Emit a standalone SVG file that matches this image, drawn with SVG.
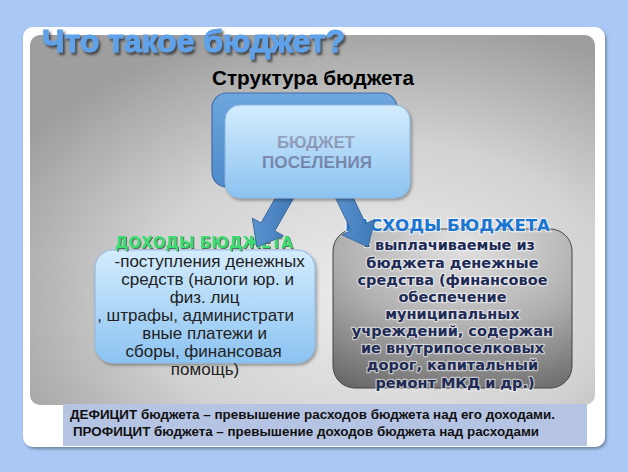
<svg xmlns="http://www.w3.org/2000/svg" width="628" height="472" viewBox="0 0 628 472">
<defs>
<radialGradient id="panelG" cx="0.62" cy="0.7" r="0.75">
<stop offset="0" stop-color="#eeeeee"/>
<stop offset="0.55" stop-color="#d2d2d2"/>
<stop offset="1" stop-color="#9e9e9e"/>
</radialGradient>
<linearGradient id="lightBlue" x1="0" y1="0" x2="0" y2="1">
<stop offset="0" stop-color="#d3ecfd"/>
<stop offset="1" stop-color="#8cc3f1"/>
</linearGradient>
<linearGradient id="darkBlue" x1="0" y1="0" x2="0" y2="1">
<stop offset="0" stop-color="#6ea6de"/>
<stop offset="1" stop-color="#4f8cc9"/>
</linearGradient>
<radialGradient id="grayBox" cx="0.55" cy="0.1" r="1.05">
<stop offset="0" stop-color="#e2e2e2"/>
<stop offset="0.5" stop-color="#b0b0b0"/>
<stop offset="1" stop-color="#626262"/>
</radialGradient>
<linearGradient id="arrowG" x1="0" y1="0" x2="1" y2="0">
<stop offset="0" stop-color="#5b93cf"/>
<stop offset="1" stop-color="#3f78b6"/>
</linearGradient>
<linearGradient id="budgetText" x1="0" y1="0" x2="0" y2="1">
<stop offset="0" stop-color="#9aa6c2"/>
<stop offset="1" stop-color="#6c7da3"/>
</linearGradient>
<filter id="shadow" x="-10%" y="-10%" width="125%" height="130%">
<feDropShadow dx="1.5" dy="2" stdDeviation="1.5" flood-color="#000" flood-opacity="0.35"/>
</filter>
<filter id="titleShadow" x="-5%" y="-20%" width="115%" height="150%">
<feDropShadow dx="2" dy="2.5" stdDeviation="1" flood-color="#333" flood-opacity="0.8"/>
</filter>
<filter id="greenShadow" x="-5%" y="-30%" width="115%" height="170%">
<feDropShadow dx="1" dy="1" stdDeviation="0.6" flood-color="#2f4f3a" flood-opacity="0.8"/>
</filter>
</defs>
<style>
.sans{font-family:"Liberation Sans",Arial,sans-serif}
.dv{font-family:"DejaVu Sans",Verdana,sans-serif;font-weight:bold}
.inc{font-size:17px;fill:#222;text-anchor:middle}
.exp{font-size:14.5px;fill:#1e2b57;text-anchor:middle;stroke:#ffffff;stroke-opacity:0.55;stroke-width:2.5;paint-order:stroke;stroke-linejoin:round}
.bot{font-size:13.5px;font-weight:bold;fill:#111}
.arrow{fill:url(#arrowG);stroke:#3a6aa0;stroke-width:1}
</style>
<rect x="0" y="0" width="628" height="472" fill="#a9c8f4"/>
<rect x="23" y="27" width="582" height="420" rx="10" fill="#ffffff" filter="url(#shadow)"/>
<rect x="30" y="35" width="565" height="370" rx="10" fill="url(#panelG)"/>
<rect x="63" y="404" width="524" height="42" fill="#b6c4e4"/>
<text x="42" y="52" class="sans" font-size="31" font-weight="bold" fill="#5fa2ea" stroke="#5fa2ea" stroke-width="1" textLength="303" lengthAdjust="spacingAndGlyphs" filter="url(#titleShadow)">Что такое бюджет?</text>
<text x="212" y="85" class="sans" font-size="21" font-weight="bold" fill="#000" textLength="202" lengthAdjust="spacingAndGlyphs">Структура бюджета</text>
<text x="70" y="419" class="sans bot" textLength="485" lengthAdjust="spacingAndGlyphs">ДЕФИЦИТ бюджета – превышение расходов бюджета над его доходами.</text>
<text x="73" y="436" class="sans bot" textLength="466" lengthAdjust="spacingAndGlyphs">ПРОФИЦИТ бюджета – превышение доходов бюджета над расходами</text>
<g id="node-income">
<rect x="95" y="250" width="220" height="113" rx="18" fill="url(#lightBlue)" stroke="#8db7e0" stroke-width="1" filter="url(#shadow)"/>
<text x="115" y="248" class="dv" font-size="16" fill="#3ddc6f" textLength="178" lengthAdjust="spacingAndGlyphs" filter="url(#greenShadow)">ДОХОДЫ БЮДЖЕТА</text>
<text class="sans inc">
<tspan x="212" y="267">-поступления денежных</tspan>
<tspan x="210" y="285">средств (налоги  юр. и</tspan>
<tspan x="207" y="303">физ. лиц</tspan>
<tspan x="198" y="321">, штрафы, администрати</tspan>
<tspan x="207" y="339">вные  платежи и</tspan>
<tspan x="206" y="357">сборы, финансовая</tspan>
<tspan x="205" y="375">помощь)</tspan>
</text>
</g>
<g id="node-expense">
<rect x="333" y="229" width="239" height="159" rx="22" fill="url(#grayBox)" stroke="#444" stroke-width="1"/>
<text x="345" y="231" class="dv" font-size="16" fill="#1a76d2" stroke="#ffffff" stroke-opacity="0.6" stroke-width="2.5" paint-order="stroke" textLength="205" lengthAdjust="spacingAndGlyphs">РАСХОДЫ БЮДЖЕТА</text>
<text class="dv exp">
<tspan x="452" y="250">- выплачиваемые из</tspan>
<tspan x="455" y="268">бюджета денежные</tspan>
<tspan x="455" y="285">средства (финансовое</tspan>
<tspan x="455" y="302">обеспечение</tspan>
<tspan x="455" y="319">муниципальных</tspan>
<tspan x="455" y="336">учреждений, содержан</tspan>
<tspan x="455" y="353">ие внутрипоселковых</tspan>
<tspan x="455" y="370">дорог, капитальный</tspan>
<tspan x="455" y="388">ремонт МКД и др.)</tspan>
</text>
</g>
<g id="connectors">
<polygon class="arrow" points="296,194 274.8,230.9 283.6,235.8 257,247 252.3,218.1 261,223 282.2,186"/>
<polygon class="arrow" points="349.2,189.5 365.7,223.7 374.8,219.4 368,247 342.2,234.9 351.3,230.6 334.8,196.4"/>
</g>
<g id="node-budget">
<rect x="212" y="93" width="185" height="94" rx="15" fill="url(#darkBlue)" stroke="#3e6ea6" stroke-width="1.2"/>
<rect x="225" y="105" width="185" height="93" rx="15" fill="url(#lightBlue)" stroke="#8ab5de" stroke-width="1" filter="url(#shadow)"/>
<text class="sans" font-size="17" font-weight="bold" fill="url(#budgetText)" lengthAdjust="spacingAndGlyphs">
<tspan x="277" y="148" textLength="78">БЮДЖЕТ</tspan>
<tspan x="262" y="168" textLength="110">ПОСЕЛЕНИЯ</tspan>
</text>
</g>
</svg>
